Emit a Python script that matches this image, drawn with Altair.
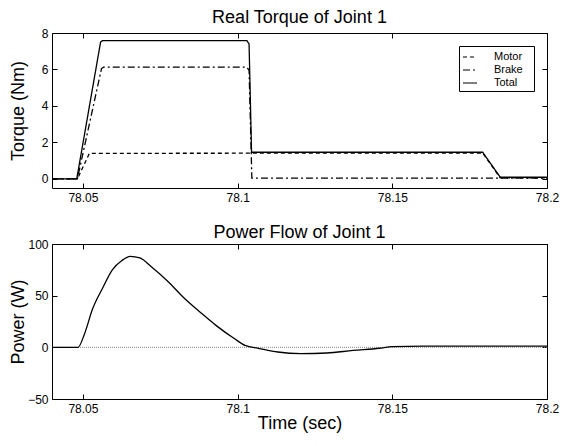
import altair as alt
import pandas as pd

# ---------------- data ----------------
total_t = [78.040, 78.0480, 78.0557, 78.0563, 78.1030, 78.1037, 78.1045, 78.1792, 78.1849, 78.200]
total_v = [0.0, 0.0, 7.50, 7.58, 7.58, 7.40, 1.46, 1.46, 0.09, 0.09]
brake_t = [78.040, 78.0482, 78.0560, 78.0567, 78.1030, 78.1037, 78.1046, 78.200]
brake_v = [0.0, 0.0, 6.05, 6.13, 6.13, 5.95, 0.04, 0.04]
motor_t = [78.040, 78.0482, 78.0521, 78.1792, 78.1849, 78.200]
motor_v = [0.0, 0.0, 1.40, 1.42, 0.05, 0.05]

power_t = [78.040, 78.0484, 78.0505, 78.0531, 78.0563, 78.0595, 78.0626, 78.0653,
           78.0684, 78.0721, 78.0774, 78.0826, 78.0879, 78.0931, 78.0989, 78.1026,
           78.1067, 78.1130, 78.1205, 78.1288, 78.1373, 78.1458, 78.1500, 78.1600, 78.2000]
power_v = [0, 0, 13, 37, 57, 75, 84, 88, 86.5, 78, 64, 48, 34, 21, 8.5, 1.6,
           -0.9, -4.5, -6, -5.5, -3, -0.9, 0.7, 1.2, 1.2]

series = ["Motor", "Brake", "Total"]
x_ticks = [78.05, 78.1, 78.15, 78.2]
torque_ticks = [0, 2, 4, 6, 8]
power_ticks = [-50, 0, 50, 100]
zero_line = [0]

rows = []
for name, ts, vs in [("Motor", motor_t, motor_v), ("Brake", brake_t, brake_v), ("Total", total_t, total_v)]:
    for i, (t, v) in enumerate(zip(ts, vs)):
        rows.append({"t": t, "v": v, "series": name, "order": i})
torque_df = pd.DataFrame(rows)
power_df = pd.DataFrame({"t": power_t, "v": power_v})
zero_df = pd.DataFrame({"y": zero_line})

FONT = "Liberation Sans"
W, H = 495, 155
xscale = alt.Scale(domain=[78.04, 78.2], nice=False, zero=False)
tick_axis = dict(tickSize=5, offset=-5, domain=False, grid=False, tickColor="black")


def frame_layer(base, yscale, yticks):
    return base.mark_line(opacity=0).encode(
        x=alt.X("t:Q", scale=xscale,
                axis=alt.Axis(orient="top", labels=False, title=None, values=x_ticks,
                              minExtent=0, maxExtent=0, **tick_axis)),
        y=alt.Y("v:Q", scale=yscale,
                axis=alt.Axis(orient="right", labels=False, title=None, values=yticks,
                              minExtent=0, maxExtent=0, **tick_axis)),
    )


def left_axis(title, values):
    return alt.Axis(orient="left", title=title, values=values, labelPadding=4,
                    titlePadding=3, minExtent=27, maxExtent=27, **tick_axis)


def bottom_axis(title):
    return alt.Axis(orient="bottom", title=title, values=x_ticks, format=".2~f",
                    labelFlush=False, labelPadding=4, titlePadding=0, **tick_axis)


# ---------------- top: torque ----------------
tscale = alt.Scale(domain=[-0.5, 8], nice=False, zero=False)
tbase = alt.Chart(torque_df)
torque_lines = tbase.mark_line(color="black", strokeWidth=1.3).encode(
    x=alt.X("t:Q", scale=xscale, axis=bottom_axis(None)),
    y=alt.Y("v:Q", scale=tscale, axis=left_axis("Torque (Nm)", torque_ticks)),
    strokeDash=alt.StrokeDash(
        "series:N",
        scale=alt.Scale(domain=series, range=[[4, 3], [7, 3, 2, 3], [1, 0]]),
        legend=alt.Legend(title=None, orient="top-right", offset=13, strokeColor="black",
                          fillColor="white", padding=3, labelFontSize=11, labelFont=FONT,
                          labelColor="black",
                          labelExpr="datum.label + '\u2800'",
                          symbolType="stroke", symbolSize=196, symbolStrokeWidth=1.2,
                          symbolStrokeColor="black", rowPadding=0, labelOffset=16),
    ),
    order="order:Q",
)
top = alt.layer(torque_lines, frame_layer(tbase, tscale, torque_ticks)).resolve_axis(
    x="independent", y="independent"
).properties(
    width=W, height=H,
    title=alt.TitleParams("Real Torque of Joint 1", fontSize=18, font=FONT,
                          fontWeight="normal", offset=0),
)

# ---------------- bottom: power ----------------
pscale = alt.Scale(domain=[-50, 100], nice=False, zero=False)
pbase = alt.Chart(power_df)
zero_rule = alt.Chart(zero_df).mark_rule(color="#888888", strokeDash=[1, 1], strokeWidth=1).encode(
    y=alt.Y("y:Q", scale=pscale, axis=None)
)
power_line = pbase.mark_line(color="black", strokeWidth=1.3, interpolate="monotone").encode(
    x=alt.X("t:Q", scale=xscale, axis=bottom_axis("Time (sec)")),
    y=alt.Y("v:Q", scale=pscale, axis=left_axis("Power (W)", power_ticks)),
)
bottom = alt.layer(zero_rule, power_line, frame_layer(pbase, pscale, power_ticks)).resolve_axis(
    x="independent", y="independent"
).properties(
    width=W, height=H,
    title=alt.TitleParams("Power Flow of Joint 1", fontSize=18, font=FONT,
                          fontWeight="normal", offset=-4),
)

chart = alt.vconcat(top, bottom, spacing=19).properties(
    padding={"left": 0, "top": 0, "right": 0, "bottom": 0}
).configure_view(stroke="black", strokeWidth=1).configure_axis(
    labelFont=FONT, labelFontSize=12, labelColor="black",
    titleFont=FONT, titleFontSize=18, titleFontWeight="normal", titleColor="black",
).configure_title(color="black")

chart.save("out.html", embed_options={"renderer": "svg", "actions": False})
